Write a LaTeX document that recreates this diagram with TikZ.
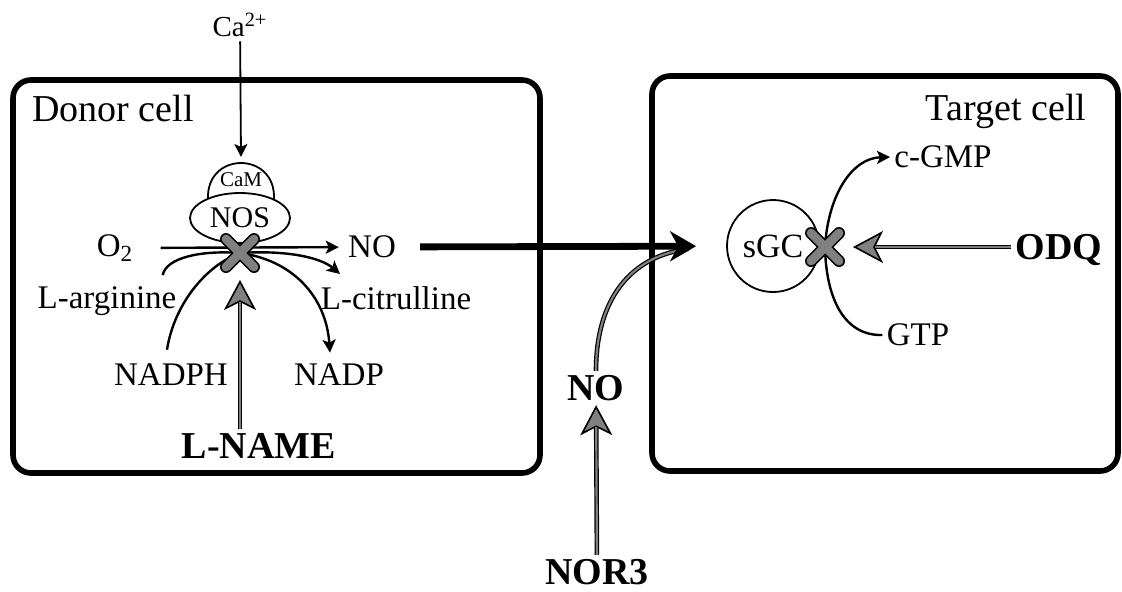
\documentclass[tikz,border=0pt]{standalone}
\usepackage{fontspec}
\setmainfont{Liberation Serif}
\usetikzlibrary{arrows.meta,calc,shapes.geometric}

% grey inhibitor arrow: black outline with grey core
\newcommand{\inhibit}[2]{%
  \draw[inhib] #1 -- #2;
  \draw[inhibcore] #1 -- #2;}

\begin{document}
\begin{tikzpicture}[x=0.5pt,y=0.5pt,yscale=-1,
  lab/.style={font=\fontsize{16.5}{19}\selectfont, inner sep=2pt},
  biglab/.style={font=\fontsize{19}{22}\selectfont, inner sep=2pt},
  boldlab/.style={font=\fontsize{19}{22}\selectfont\bfseries, inner sep=2pt},
  cellbox/.style={line width=2.8pt, rounded corners=9pt},
  rx/.style={line width=1.2pt, -{Stealth[length=6.5pt,width=6.5pt,inset=1.5pt]}},
  noarrow/.style={line width=3.4pt, -{Stealth[length=13pt,width=15pt,inset=4pt]}},
  inhib/.style={line width=2.3pt, -{Stealth[length=15pt,width=16pt,inset=4pt,fill=black!50,line width=0.8pt]}},
  inhibcore/.style={line width=1.1pt, draw=black!50, shorten >=11pt},
  greyline/.style={preaction={draw=black, line width=2.3pt}, draw=black!50, line width=1.1pt},
  xmark/.style={preaction={draw=black, line width=6pt, line cap=round}, draw=black!50, line width=4.4pt, line cap=round}]
  \useasboundingbox (0,0) rectangle (1122,591);

  %Cells
  \draw[cellbox] (13,80) rectangle (540,473);
  \draw[cellbox] (652,76) rectangle (1118,471);
  \node[biglab] (donor) at (113,108) {Donor cell};
  \node[biglab] (target) at (1006,111) {Target cell};

  %Donor cell: NOS with CaM
  \node[lab, font=\fontsize{14.5}{17}\selectfont] (ca) at (240,25) {Ca\textsuperscript{2+}};
  \coordinate (camtop) at (241,157);
  \draw[line width=0.9pt] (208,199) .. controls (206,151) and (276,151) .. (274,199);
  \node[font=\fontsize{10.5}{12}\selectfont, inner sep=0pt] (cam) at (241,180) {CaM};
  \node[ellipse, draw, fill=white, line width=0.9pt, inner sep=0pt, minimum width=50pt, minimum height=25pt,
        font=\fontsize{15}{17}\selectfont] (nos) at (240,218) {NOS};
  \draw[rx, line width=0.9pt] (ca) -- (camtop);
  \coordinate (xnos) at (240,253);

  \node[lab] (otwo) at (115,248) {O\textsubscript{2}};
  \node[lab] (nolab) at (372,247) {NO};
  \node[lab] (arg) at (107,301) {L-arginine};
  \node[lab] (citr) at (396,298) {L-citrulline};
  \node[lab] (nadph) at (171,375) {NADPH};
  \node[lab] (nadp) at (339,375) {NADP};
  \node[boldlab] (lname) at (259,446) {L-NAME};

  %Reaction lines
  \draw[rx, shorten <=11.5pt, shorten >=2.5pt] (otwo) -- (nolab);
  \draw[line width=1.2pt] ($(arg.north east)+(-18,-7)$) .. controls (166,258) and (200,250) .. (xnos);
  \draw[line width=1.2pt] ($(nadph.north)+(-4,-10)$) .. controls (174,305) and (205,266) .. (xnos);
  \draw[rx] (xnos) .. controls (285,250) and (320,257) .. ($(citr.north)+(-56,-8)$);
  \draw[rx] (xnos) .. controls (292,260) and (326,296) .. ($(nadp.north)+(-9,-7)$);
  \coordinate (lnametip) at (240,280);
  \inhibit{(lname.north -| xnos)}{(lnametip)}
  \draw[xmark] ($(xnos)+(-14,-14)$) -- ($(xnos)+(14,14)$) ($(xnos)+(-14,14)$) -- ($(xnos)+(14,-14)$);

  %Target cell: sGC
  \node[circle, draw, line width=0.9pt, inner sep=0pt, minimum size=46pt,
        font=\fontsize{17}{19}\selectfont] (sgc) at (773,246) {sGC};
  \coordinate (xsgc) at (825,247);
  \node[lab] (cgmp) at (943,157) {c-GMP};
  \node[lab] (gtp) at (918,335) {GTP};
  \node[boldlab] (odq) at (1059,250) {ODQ};
  \draw[rx] (gtp.west) .. controls (845,336) and (826,300) .. (xsgc)
        .. controls (828,195) and (852,158) .. (cgmp.west);
  \coordinate (odqtip) at (853,247);
  \inhibit{(odq.west |- odqtip)}{(odqtip)}
  \draw[xmark] ($(xsgc)+(-14,-14)$) -- ($(xsgc)+(14,14)$) ($(xsgc)+(-14,14)$) -- ($(xsgc)+(14,-14)$);

  %NO donor outside
  \node[boldlab] (noout) at (596,388) {NO};
  \node[boldlab] (nor3) at (597,572) {NOR3};
  \inhibit{(nor3)}{(noout)}
  \draw[greyline] (noout.north) .. controls (596,300) and (630,256) .. ($(sgc.west)+(-38,3)$);

  %NO to sGC
  \draw[noarrow, shorten <=10pt, shorten >=15pt] (nolab) -- (sgc);

\end{tikzpicture}
\end{document}
